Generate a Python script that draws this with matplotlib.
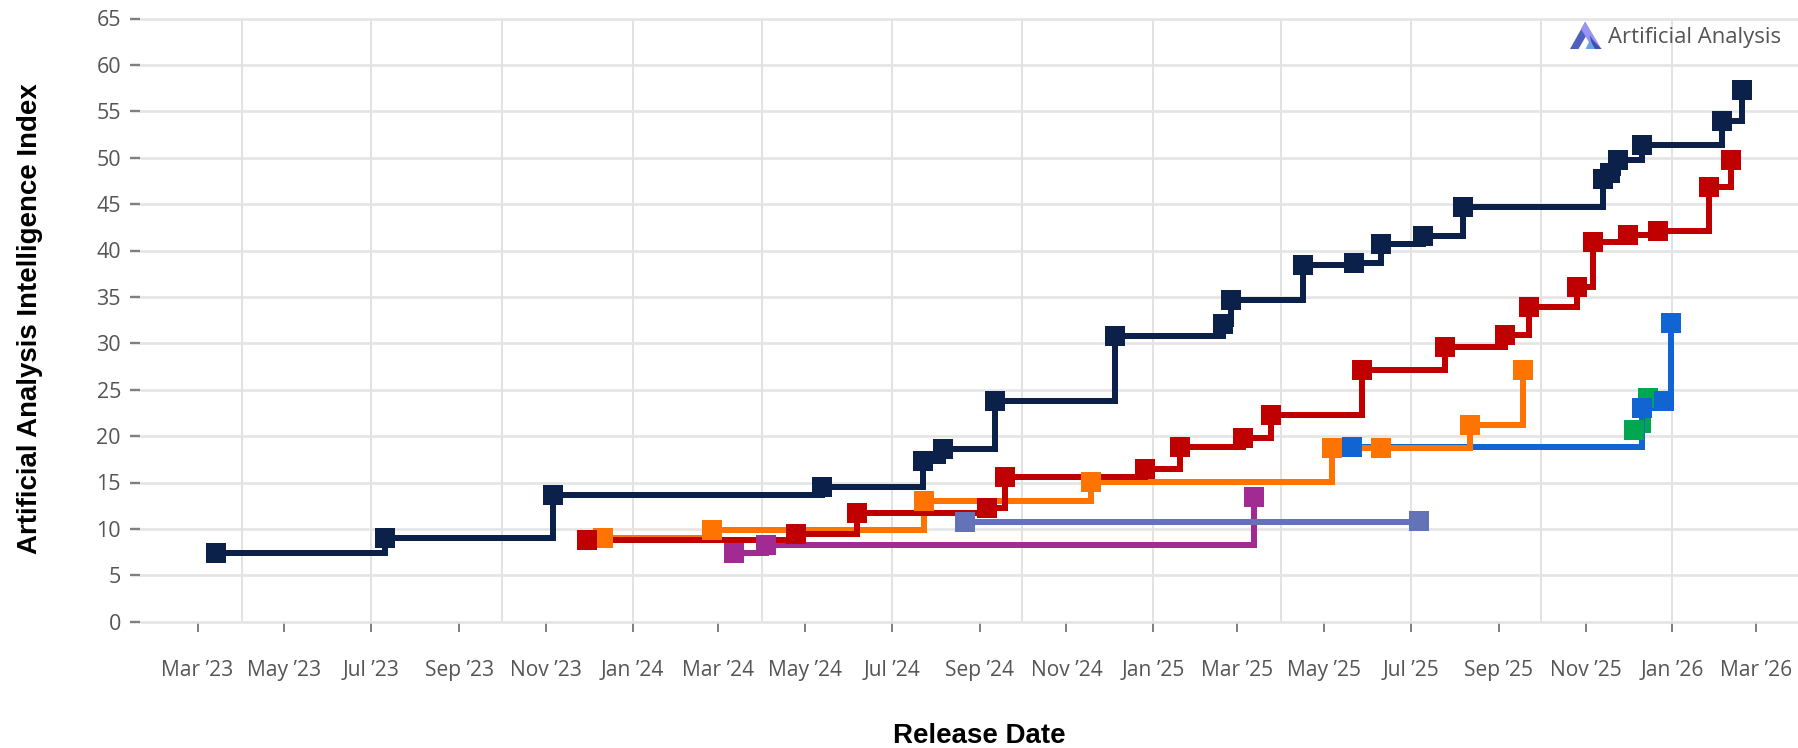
import datetime as dt
import matplotlib
matplotlib.use("Agg")
import matplotlib.pyplot as plt
import matplotlib.dates as mdates
from matplotlib.patches import Polygon

navy_dates = ["2023-03-14","2023-07-11","2023-11-06","2024-05-13","2024-07-23","2024-08-06","2024-09-12",
              "2024-12-05","2025-02-19","2025-02-25","2025-04-16","2025-05-22","2025-06-10","2025-07-10",
              "2025-08-07","2025-11-13","2025-11-18","2025-11-24","2025-12-11","2026-02-05","2026-02-19"]
navy_vals = [7.4,9.05,13.7,14.5,17.35,18.6,23.75,30.8,32.1,34.7,38.4,38.7,40.65,41.55,44.65,47.7,48.4,49.8,51.35,54.0,57.25]

red_dates = ["2023-11-30","2024-04-25","2024-06-07","2024-09-06","2024-09-19","2024-12-26","2025-01-20",
             "2025-03-05","2025-03-25","2025-05-28","2025-07-25","2025-09-05","2025-09-22","2025-10-26",
             "2025-11-06","2025-12-01","2025-12-22","2026-01-27","2026-02-11"]
red_vals = [8.8,9.5,11.7,12.3,15.55,16.45,18.85,19.75,22.3,27.1,29.55,30.85,33.9,36.1,40.9,41.7,42.1,46.8,49.8]

orange_dates = ["2023-12-11","2024-02-26","2024-07-24","2024-11-18","2025-05-07","2025-06-10","2025-08-12","2025-09-18"]
orange_vals = [9.0,9.9,13.0,15.1,18.75,18.75,21.25,27.1]

purple_dates = ["2024-03-12","2024-04-04","2025-03-13"]
purple_vals = [7.4,8.3,13.45]

slate_dates = ["2024-08-22","2025-07-07"]
slate_vals = [10.7,10.85]

blue_dates = ["2025-05-21","2025-12-11","2025-12-26","2025-12-31"]
blue_vals = [18.8,23.05,23.75,32.15]

green_dates = ["2025-12-05","2025-12-15"]
green_vals = [20.65,24.1]

series = [
    (green_dates, green_vals, "#00a650"),
    (blue_dates, blue_vals, "#1165d2"),
    (purple_dates, purple_vals, "#a12b92"),
    (slate_dates, slate_vals, "#6473b8"),
    (orange_dates, orange_vals, "#ff7300"),
    (red_dates, red_vals, "#c00000"),
    (navy_dates, navy_vals, "#0c2149"),
]

y_ticks = list(range(0, 70, 5))
x_tick_dates = ["2023-03-01","2023-05-01","2023-07-01","2023-09-01","2023-11-01","2024-01-01","2024-03-01",
                "2024-05-01","2024-07-01","2024-09-01","2024-11-01","2025-01-01","2025-03-01","2025-05-01",
                "2025-07-01","2025-09-01","2025-11-01","2026-01-01","2026-03-01"]
x_tick_labels = ["Mar '23","May '23","Jul '23","Sep '23","Nov '23","Jan '24","Mar '24","May '24","Jul '24",
                 "Sep '24","Nov '24","Jan '25","Mar '25","May '25","Jul '25","Sep '25","Nov '25","Jan '26","Mar '26"]
x_tick_labels = [s.replace("'", "\u2019") for s in x_tick_labels]
x_grid_dates = ["2023-04-01","2023-07-01","2023-10-01","2024-01-01","2024-04-01","2024-07-01","2024-10-01",
                "2025-01-01","2025-04-01","2025-07-01","2025-10-01","2026-01-01"]

W, H = 1799, 748
PX = 72 / 100
L, R, T, B = 140, 1799, 18.5, 621.7
PX_PER_DAY = 1.4222
ANCHOR_PX = 197.5


def num(s):
    return mdates.date2num(dt.date.fromisoformat(s))


fig = plt.figure(figsize=(W / 100, H / 100), dpi=100, facecolor="white")
ax = fig.add_axes([L / W, 1 - B / H, (R - L) / W, (B - T) / H])
anchor = num("2023-03-01")
ax.set_xlim(anchor + (L - ANCHOR_PX) / PX_PER_DAY, anchor + (R - ANCHOR_PX) / PX_PER_DAY)
ax.set_ylim(0, 65)
for s in ax.spines.values():
    s.set_visible(False)

ax.xaxis.remove_overlapping_locs = False
ax.set_yticks(y_ticks)
ax.set_xticks([num(d) for d in x_tick_dates])
ax.set_xticklabels(x_tick_labels)
ax.set_xticks([num(d) for d in x_grid_dates], minor=True)
ax.tick_params(axis="x", which="minor", length=0)
ax.tick_params(axis="x", which="major", length=10 * PX, width=2 * PX, color="#808080", pad=28 * PX,
               labelsize=21 * PX, labelcolor="#555555")
ax.tick_params(axis="y", which="major", length=10 * PX, width=2.4 * PX, color="#808080", pad=9 * PX,
               labelsize=21.5 * PX, labelcolor="#555555")
for t in ax.get_xticklabels() + ax.get_yticklabels():
    t.set_fontfamily("Open Sans")
ax.grid(True, axis="y", which="major", color="#e4e4e4", linewidth=2.6 * PX, clip_on=False)
ax.grid(True, axis="x", which="minor", color="#e2e2e2", linewidth=2 * PX)
ax.grid(False, axis="x", which="major")
ax.set_axisbelow(True)

for i, (dates, vals, color) in enumerate(series):
    xs = [num(d) for d in dates]
    ax.step(xs, vals, where="post", color=color, linewidth=6 * PX, zorder=2 + i * 0.05,
            solid_joinstyle="miter", solid_capstyle="butt", clip_on=False)
    ax.plot(xs, vals, linestyle="none", marker="s", markersize=20 * PX, markerfacecolor=color,
            markeredgewidth=0, zorder=3 + i * 0.05, clip_on=False)

fig.text(979 / W, 1 - 736 / H, "Release Date", family="Liberation Sans", weight="bold",
         fontsize=27.6 * PX, color="black", ha="center", va="center")
fig.text(30.5 / W, 1 - 319 / H, "Artificial Analysis Intelligence Index", family="Liberation Sans",
         weight="bold", fontsize=27.6 * PX, color="black", rotation=90, ha="center", va="center")
fig.text(1608 / W, 1 - 38 / H, "Artificial Analysis", family="Open Sans", fontsize=22.2 * PX,
         color="#555555", ha="left", va="center", zorder=10)


def logo(pts, color):
    fig.add_artist(Polygon([(x / W, 1 - y / H) for x, y in pts], closed=True, facecolor=color,
                           edgecolor="none", transform=fig.transFigure, zorder=9))


logo([(1570, 49), (1578.5, 49), (1589, 31), (1585.3, 21.7)], "#4f60bd")
logo([(1585.3, 21.7), (1581, 29), (1593, 49), (1601.5, 49)], "#9a93f6")
logo([(1589.5, 35), (1593, 40), (1601.5, 49), (1593, 49)], "#3f51a8")
logo([(1590, 40), (1585.5, 49), (1595, 49)], "#6aa2ea")

fig.savefig("out.png", dpi=100, facecolor="white")
